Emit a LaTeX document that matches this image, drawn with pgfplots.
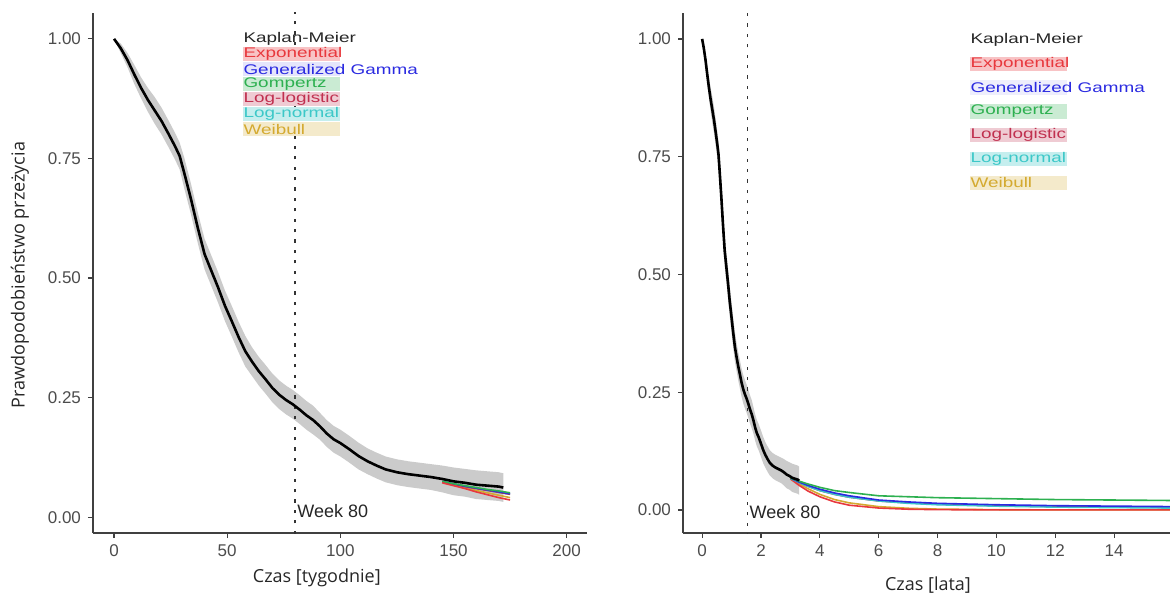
\documentclass[border=0pt]{standalone}
\usepackage{pgfplots}
\pgfplotsset{compat=1.18}
\usepackage{pgfplotstable}
\usepackage{fontspec}
\setmainfont{Liberation Sans}
\newfontfamily\osans{Open Sans}
\usetikzlibrary{calc}

\definecolor{cExp}{HTML}{E8383D}
\definecolor{cGG}{HTML}{2A2AE0}
\definecolor{cGom}{HTML}{2DB050}
\definecolor{cLL}{HTML}{C0304F}
\definecolor{cLN}{HTML}{3CC8C8}
\definecolor{cWei}{HTML}{D4AA30}
\definecolor{axgray}{HTML}{404040}

\pgfplotstableread{
t S
0 1.000
3 0.980
6 0.955
9 0.925
12 0.897
15 0.872
18 0.850
21 0.828
24 0.802
27 0.775
29 0.755
31 0.720
34 0.665
37 0.605
40 0.550
43 0.515
46 0.480
49 0.442
52 0.410
55 0.377
58 0.347
61 0.325
64 0.305
67 0.288
70 0.270
73 0.256
76 0.245
79 0.236
82 0.225
85 0.213
88 0.203
91 0.190
94 0.175
97 0.163
100 0.155
104 0.142
108 0.128
112 0.117
116 0.108
120 0.100
125 0.094
130 0.090
135 0.087
140 0.084
145 0.080
150 0.075
155 0.072
160 0.068
165 0.066
170 0.064
172 0.062
}\km

% confidence band: upper limit forward, lower limit backward
\pgfplotstableread{
t b
0 1.000
3 0.990
6 0.970
9 0.945
12 0.919
15 0.897
18 0.878
21 0.856
24 0.830
27 0.803
29 0.783
31 0.752
34 0.697
37 0.637
40 0.582
43 0.547
46 0.512
49 0.474
52 0.442
55 0.409
58 0.379
61 0.355
64 0.335
67 0.318
70 0.300
73 0.286
76 0.275
79 0.266
82 0.255
85 0.243
88 0.233
91 0.218
94 0.203
97 0.191
100 0.183
104 0.170
108 0.156
112 0.144
116 0.135
120 0.127
125 0.121
130 0.117
135 0.114
140 0.111
145 0.108
150 0.104
155 0.101
160 0.098
165 0.096
170 0.094
172 0.092
172 0.032
170 0.034
165 0.036
160 0.038
155 0.043
150 0.046
145 0.052
140 0.057
135 0.060
130 0.063
125 0.067
120 0.073
116 0.081
112 0.090
108 0.100
104 0.114
100 0.127
97 0.135
94 0.147
91 0.162
88 0.173
85 0.183
82 0.195
79 0.206
76 0.215
73 0.226
70 0.240
67 0.258
64 0.275
61 0.295
58 0.315
55 0.345
52 0.378
49 0.410
46 0.448
43 0.483
40 0.518
37 0.573
34 0.633
31 0.688
29 0.727
27 0.747
24 0.774
21 0.800
18 0.822
15 0.847
12 0.875
9 0.905
6 0.940
3 0.970
0 1.000
}\band

% parametric fits, weeks (left panel tail)
\pgfplotstableread{
t exp wei gg gom ll ln
145 0.072 0.073 0.075 0.075 0.074 0.074
150 0.066 0.067 0.070 0.070 0.069 0.069
155 0.060 0.062 0.065 0.066 0.064 0.064
160 0.053 0.056 0.061 0.062 0.060 0.060
165 0.047 0.051 0.057 0.058 0.056 0.056
170 0.041 0.046 0.053 0.055 0.052 0.052
175 0.036 0.041 0.049 0.051 0.048 0.048
}\fitw

% parametric fits, years (right panel)
\pgfplotstableread{
t exp wei gg gom ll ln
3.0 0.066 0.066 0.068 0.068 0.067 0.067
3.3 0.052 0.055 0.059 0.061 0.058 0.058
3.6 0.040 0.045 0.052 0.055 0.050 0.050
4.0 0.028 0.033 0.044 0.048 0.041 0.041
4.5 0.017 0.022 0.036 0.041 0.033 0.033
5.0 0.010 0.015 0.030 0.037 0.027 0.027
6.0 0.004 0.007 0.021 0.030 0.019 0.019
7.0 0.0015 0.0035 0.017 0.028 0.015 0.014
8.0 0.0006 0.0018 0.014 0.026 0.012 0.011
10.0 0.0001 0.0005 0.011 0.024 0.009 0.008
12.0 0.0 0.0001 0.009 0.022 0.007 0.006
14.0 0.0 0.0 0.008 0.021 0.006 0.005
16.0 0.0 0.0 0.007 0.020 0.005 0.004
}\fity

\pgfplotsset{
  panel/.style={
    scale only axis, height=260pt,
    axis x line=bottom, axis y line=left,
    axis line style={-, axgray, line width=0.6pt},
    tick style={axgray, line width=0.6pt},
    tick align=outside, major tick length=2.5pt,
    tick label style={font=\fontsize{8.5}{10}\selectfont, text=black!70},
    /pgf/number format/assume math mode=true,
    ytick={0,0.25,0.5,0.75,1},
    yticklabel style={/pgf/number format/fixed, /pgf/number format/fixed zerofill, /pgf/number format/precision=2},
    label style={font=\osans\fontsize{9}{11}\selectfont, text=black!85},
  },
  kmline/.style={black, line width=1.3pt},
  fit/.style={line width=0.8pt},
  wk/.style={dash pattern=on 1.6pt off 3.6pt, line width=0.65pt, black!80},
}

\newcommand{\legline}[5]{% x, y, color, bg, text
  \fill[#4] ($(#1,#2)+(0pt,-3.6pt)$) rectangle ++(48.5pt,7.2pt);
  \node[anchor=west, inner sep=0pt, font=\fontsize{7}{8}\selectfont, text=#3, xscale=1.35] at (#1,#2) {#5};}

\begin{document}
\begin{tikzpicture}
\useasboundingbox (0,0) rectangle (585pt,-296.5pt);

% ---------------- left panel ----------------
\begin{axis}[panel,
  at={(46.5pt,-266.5pt)}, anchor=south west, width=247pt,
  xmin=-9.3, xmax=209, ymin=-0.033, ymax=1.054,
  xtick={0,50,100,150,200},
  xlabel={Czas [tygodnie]},
  xlabel style={at={(axis description cs:0.453,0)}, anchor=center, yshift=-22.5pt},
  ylabel={Prawdopodobieństwo przeżycia},
  ylabel style={at={(axis description cs:-0.148,0.496)}, anchor=center},
]
\addplot[fill=gray!55, fill opacity=0.75, draw=none] table[x=t, y=b] {\band};
\addplot[wk] coordinates {(80,-0.1) (80,1.2)};
\addplot[fit, cWei] table[x=t, y=wei] {\fitw};
\addplot[fit, cLN] table[x=t, y=ln] {\fitw};
\addplot[fit, cLL] table[x=t, y=ll] {\fitw};
\addplot[fit, cGG] table[x=t, y=gg] {\fitw};
\addplot[kmline] table[x=t, y=S] {\km};
\addplot[fit, cGom] table[x=t, y=gom] {\fitw};
\addplot[fit, cExp] table[x=t, y=exp] {\fitw};
\node[anchor=west, inner sep=1pt, font=\fontsize{9}{10}\selectfont, text=black!85] at (axis cs:80,0.012) {Week 80};
\end{axis}

% ---------------- right panel ----------------
\begin{axis}[panel,
  at={(341.5pt,-266.5pt)}, anchor=south west, width=243.5pt,
  xmin=-0.65, xmax=15.9, ymin=-0.049, ymax=1.055,
  xtick={0,2,4,6,8,10,12,14},
  xlabel={Czas [lata]},
  xlabel style={at={(axis description cs:0.503,0)}, anchor=center, yshift=-26pt},
]
\addplot[fill=gray!55, fill opacity=0.75, draw=none] table[x expr=\thisrow{t}/52.18, y=b] {\band};
\addplot[wk] coordinates {(1.533,-0.1) (1.533,1.2)};
\addplot[fit, cWei] table[x=t, y=wei] {\fity};
\addplot[fit, cExp] table[x=t, y=exp] {\fity};
\addplot[fit, cLL] table[x=t, y=ll] {\fity};
\addplot[fit, cLN] table[x=t, y=ln] {\fity};
\addplot[fit, cGG] table[x=t, y=gg] {\fity};
\addplot[fit, cGom] table[x=t, y=gom] {\fity};
\addplot[kmline] table[x expr=\thisrow{t}/52.18, y=S] {\km};
\node[anchor=west, inner sep=1pt, font=\fontsize{9}{10}\selectfont, text=black!85] at (axis cs:1.533,-0.004) {Week 80};
\end{axis}

% ---------------- legends (text labels) ----------------
\node[anchor=west, inner sep=0pt, font=\fontsize{7}{8}\selectfont, text=black!85, xscale=1.35] at (121.5pt,-19.5pt) {Kaplan-Meier};
\legline{121.5pt}{-27pt}{cExp}{cExp!30}{Exponential}
\legline{121.5pt}{-34.5pt}{cGG}{cGG!12}{Generalized Gamma}
\legline{121.5pt}{-42pt}{cGom}{cGom!25}{Gompertz}
\legline{121.5pt}{-49.5pt}{cLL}{cLL!25}{Log-logistic}
\legline{121.5pt}{-57pt}{cLN}{cLN!30}{Log-normal}
\legline{121.5pt}{-64.5pt}{cWei}{cWei!25}{Weibull}

\node[anchor=west, inner sep=0pt, font=\fontsize{7}{8}\selectfont, text=black!85, xscale=1.35] at (485pt,-20pt) {Kaplan-Meier};
\legline{485pt}{-31.9pt}{cExp}{cExp!30}{Exponential}
\legline{485pt}{-43.8pt}{cGG}{cGG!8}{Generalized Gamma}
\legline{485pt}{-55.7pt}{cGom}{cGom!25}{Gompertz}
\legline{485pt}{-67.6pt}{cLL}{cLL!25}{Log-logistic}
\legline{485pt}{-79.5pt}{cLN}{cLN!30}{Log-normal}
\legline{485pt}{-91.4pt}{cWei}{cWei!25}{Weibull}
\end{tikzpicture}
\end{document}
